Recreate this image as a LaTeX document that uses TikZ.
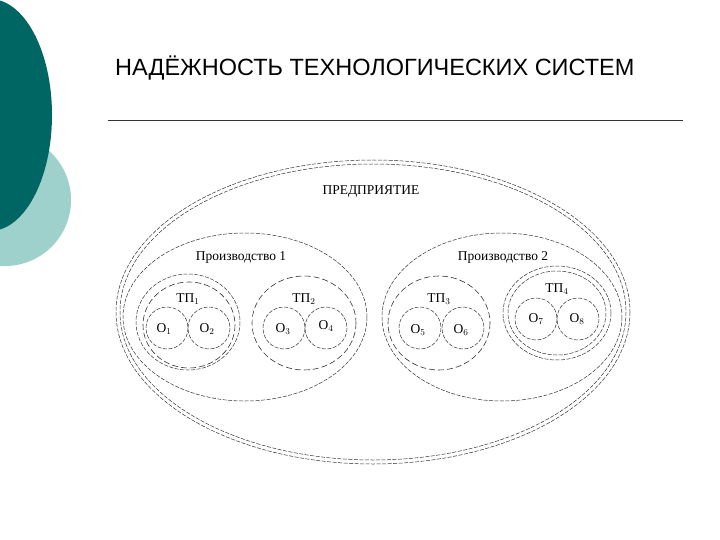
\documentclass[tikz,border=0pt]{standalone}
\usepackage{fontspec}
\setmainfont{Liberation Serif}
\newfontfamily\titlefont{Liberation Sans}
\definecolor{lightteal}{RGB}{158,208,204}
\definecolor{darkteal}{RGB}{0,102,100}
\begin{document}
\begin{tikzpicture}[x=1pt,y=-1pt,
  ring/.style={draw=black!80,line width=0.5pt,dash pattern=on 4pt off 1.5pt},
  ring2/.style={draw=black!80,line width=0.6pt,dash pattern=on 6pt off 3pt},
  lbl/.style={font=\fontsize{13.5}{15}\selectfont,inner sep=0pt}]
\useasboundingbox (0,0) rectangle (720,540);
\fill[white] (0,0) rectangle (720,540);
\begin{scope}
\clip (0,0) rectangle (720,540);
\fill[lightteal] (5,200) circle (66);
\fill[darkteal] (-10,115) ellipse (62 and 116);
\end{scope}
\node[font=\titlefont\fontsize{23.5}{26}\selectfont,anchor=west,inner sep=0pt] (title) at (115,68) {НАДЁЖНОСТЬ ТЕХНОЛОГИЧЕСКИХ СИСТЕМ};
\coordinate (l1) at (108,120); \coordinate (l2) at (683,120);
\draw[line width=0.6pt,black!80] (l1) -- (l2);
% enterprise
\draw[ring] (373,312) ellipse (257 and 152);
\draw[ring] (373,312) ellipse (253 and 148);
\node[lbl] (ent) at (371,192) {ПРЕДПРИЯТИЕ};
% productions
\draw[ring] (245,317) ellipse (122 and 84);
\node[lbl] (p1) at (241,257) {Производство 1};
\draw[ring] (502,317) ellipse (120 and 84);
\node[lbl] (p2) at (503,257) {Производство 2};
% TP1
\draw[ring] (188,322) ellipse (52 and 48);
\draw[ring2] (189,325) ellipse (46 and 43);
\node[lbl] (t1) at (188,299) {ТП$_1$};
\draw[ring] (167,328) circle (21); \node[lbl] (o1) at (164,329) {О$_1$};
\draw[ring] (209,328) circle (21); \node[lbl] (o2) at (207,329) {О$_2$};
% TP2
\draw[ring2] (304,323) ellipse (52 and 47);
\node[lbl] (t2) at (304,299) {ТП$_2$};
\draw[ring] (284,328) circle (21); \node[lbl] (o3) at (283,329) {О$_3$};
\draw[ring] (326,328) circle (21); \node[lbl] (o4) at (326,326) {О$_4$};
% TP3
\draw[ring2] (439,323) ellipse (51 and 47);
\node[lbl] (t3) at (439,299) {ТП$_3$};
\draw[ring] (420,328) circle (21); \node[lbl] (o5) at (418,330) {О$_5$};
\draw[ring] (463,328) circle (21); \node[lbl] (o6) at (461,330) {О$_6$};
% TP4
\draw[ring] (557,313) ellipse (54 and 47);
\draw[ring] (557,313) ellipse (49 and 42);
\node[lbl] (t4) at (557,289) {ТП$_4$};
\draw[ring] (536,319) circle (21); \node[lbl] (o7) at (536,319) {О$_7$};
\draw[ring] (578,319) circle (21); \node[lbl] (o8) at (577,319) {О$_8$};
\end{tikzpicture}
\end{document}
